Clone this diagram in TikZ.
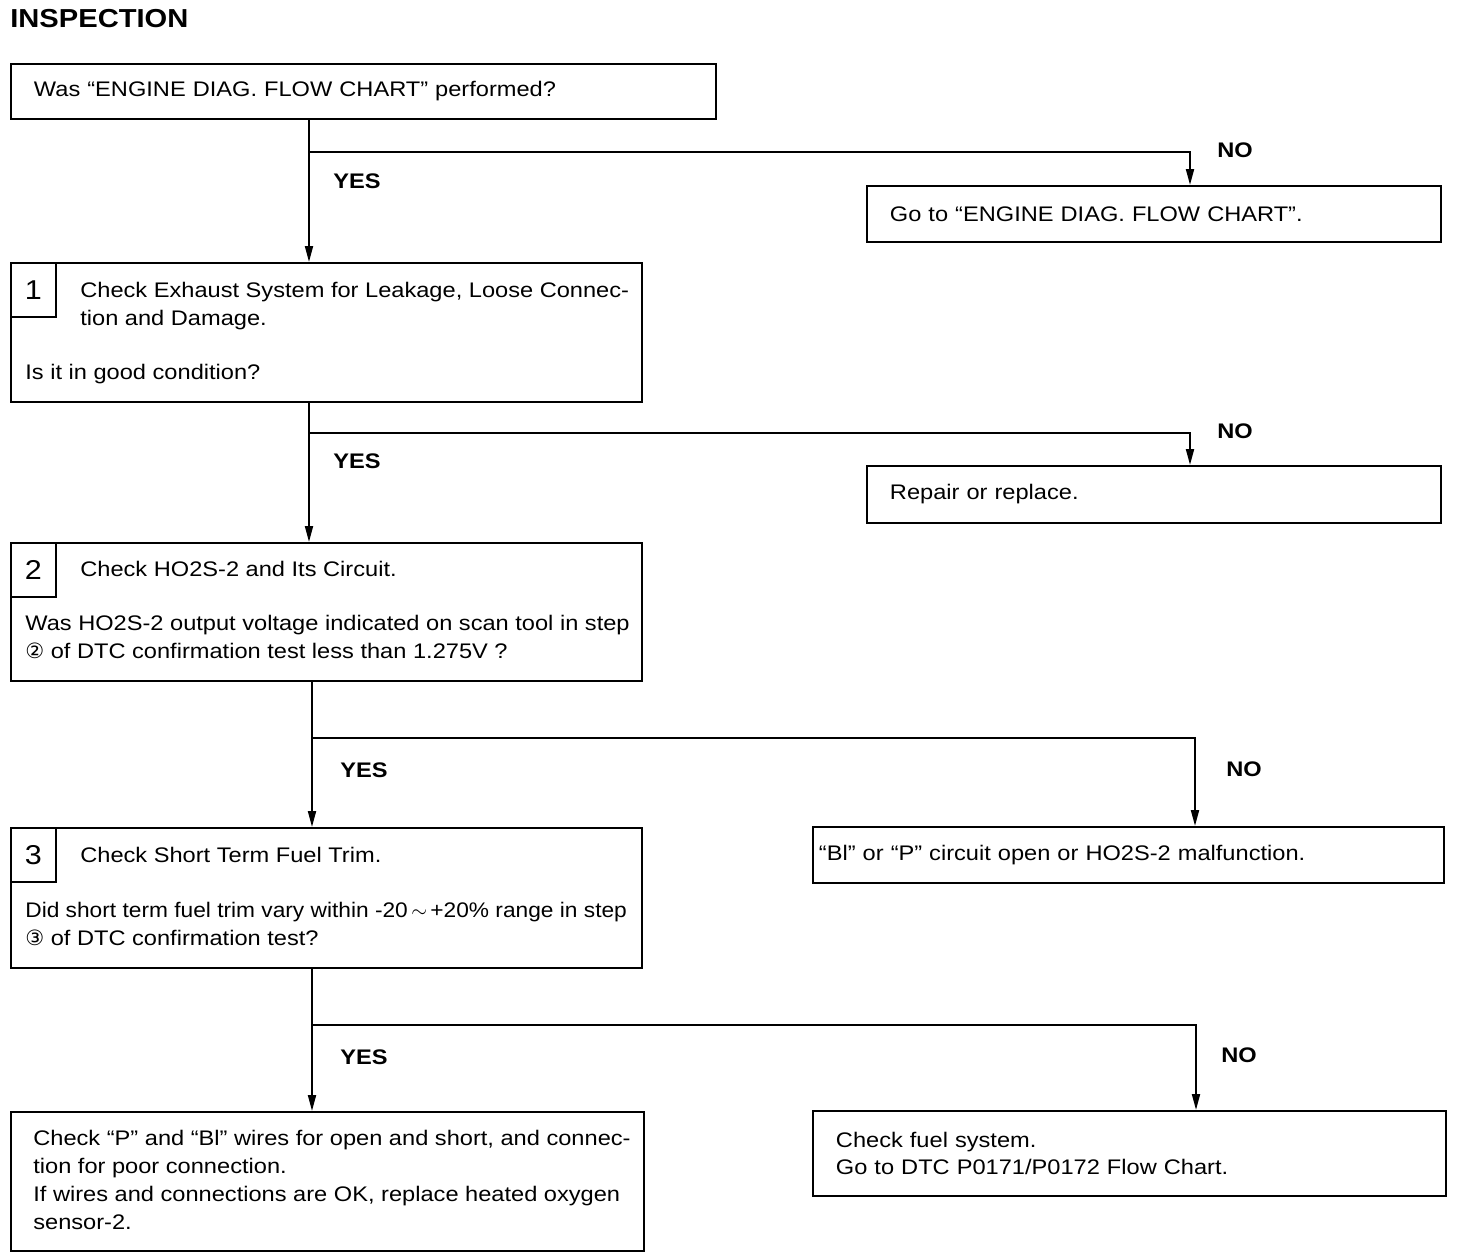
\documentclass[tikz,border=0pt]{standalone}
\usepackage{graphicx}
\usepackage{fontspec}
\setmainfont{Liberation Sans}[FakeStretch=1.12]
\newfontfamily\circfont{DejaVu Sans}
\newcommand\flowtxt{\fontsize{12}{15.9}\selectfont}
\usetikzlibrary{arrows.meta,positioning,calc}

\begin{document}
\begin{tikzpicture}[
    box/.style={draw, rectangle, line width=1.1pt, anchor=north west, align=left, inner xsep=0.46cm, inner ysep=0pt, font=\flowtxt},
    stepbox/.style={draw, rectangle, line width=1.1pt, anchor=north west, minimum width=12.62cm, minimum height=#1},
    numbox/.style={draw, rectangle, line width=1.1pt, anchor=north west, minimum width=0.9cm, minimum height=1.08cm, inner sep=0pt, font=\fontsize{15.5}{18}\selectfont},
    txt/.style={anchor=base west, align=left, inner sep=0pt, font=\flowtxt},
    lbl/.style={anchor=west, inner sep=0pt, font=\bfseries\fontsize{12}{14}\selectfont},
    arr/.style={-{Triangle[length=0.32cm,width=0.16cm]}, line width=1.1pt}]

    \useasboundingbox (0,0) rectangle (29.44,-25.2);

    \node[anchor=base west, inner sep=0pt, font=\bfseries\fontsize{14.8}{18}\selectfont] (title) at (0.2,-0.56) {INSPECTION};

    % first question
    \node[box, text width=13.18cm, minimum height=1.1cm] (q0) at (0.2,-1.26) {Was “ENGINE DIAG. FLOW CHART” performed?};
    \node[box, text width=10.56cm, minimum height=1.12cm] (n0) at (17.32,-3.7) {Go to “ENGINE DIAG. FLOW CHART”.};

    % step 1 (multi-line text sits on its last baseline)
    \node[stepbox=2.78cm] (s1) at (0.2,-5.24) {};
    \node[numbox] (s1num) at (s1.north west) {1};
    \node[txt] (s1head) at ($(s1.north west)+(1.4,-1.26)$) {Check Exhaust System for Leakage, Loose Connec-\\tion and Damage.};
    \node[txt] (s1ask) at ($(s1.north west)+(0.3,-2.34)$) {Is it in good condition?};
    \node[box, text width=10.56cm, minimum height=1.14cm] (n1) at (17.32,-9.3) {Repair or replace.};

    % step 2
    \node[stepbox=2.76cm] (s2) at (0.2,-10.84) {};
    \node[numbox] (s2num) at (s2.north west) {2};
    \node[txt] (s2head) at ($(s2.north west)+(1.4,-0.68)$) {Check HO2S-2 and Its Circuit.};
    \node[txt] (s2ask) at ($(s2.north west)+(0.3,-2.32)$) {Was HO2S-2 output voltage indicated on scan tool in step\\{\circfont ②} of DTC confirmation test less than 1.275V ?};
    \node[box, inner xsep=0.12cm, text width=12.38cm, minimum height=1.12cm] (n2) at (16.24,-16.52) {“Bl” or “P” circuit open or HO2S-2 malfunction.};

    % step 3
    \node[stepbox=2.8cm] (s3) at (0.2,-16.54) {};
    \node[numbox] (s3num) at (s3.north west) {3};
    \node[txt] (s3head) at ($(s3.north west)+(1.4,-0.7)$) {Check Short Term Fuel Trim.};
    \node[txt] (s3ask) at ($(s3.north west)+(0.3,-2.36)$) {\scalebox{0.962}[1]{Did short term fuel trim vary within -20\,$\sim$\,+20\% range in step}\\{\circfont ③} of DTC confirmation test?};

    % results
    \node[stepbox=2.78cm, minimum width=12.66cm] (e1) at (0.2,-22.22) {};
    \node[txt] (e1txt) at ($(e1.north west)+(0.46,-2.36)$) {Check “P” and “Bl” wires for open and short, and connec-\\tion for poor connection.\\If wires and connections are OK, replace heated oxygen\\sensor-2.};
    \node[box, text width=11.74cm, minimum height=1.7cm] (e2) at (16.24,-22.2) {Check fuel system.\\Go to DTC P0171/P0172 Flow Chart.};

    % branch points
    \coordinate (j0) at (6.18,-3.04);
    \coordinate (k0) at (23.8,-3.04);
    \coordinate (j1) at (6.18,-8.66);
    \coordinate (k1) at (23.8,-8.66);
    \coordinate (j2) at (6.24,-14.76);
    \coordinate (k2) at (23.9,-14.76);
    \coordinate (j3) at (6.24,-20.5);
    \coordinate (k3) at (23.92,-20.5);

    \draw[arr] (j0 |- q0.south) -- (j0 |- s1.north);
    \draw[arr] (j0) -- (k0) -- (k0 |- n0.north);
    \draw[arr] (j1 |- s1.south) -- (j1 |- s2.north);
    \draw[arr] (j1) -- (k1) -- (k1 |- n1.north);
    \draw[arr] (j2 |- s2.south) -- (j2 |- s3.north);
    \draw[arr] (j2) -- (k2) -- (k2 |- n2.north);
    \draw[arr] (j3 |- s3.south) -- (j3 |- e1.north);
    \draw[arr] (j3) -- (k3) -- (k3 |- e2.north);

    \node[lbl] (yes0) at (6.66,-3.62) {YES};
    \node[lbl] (no0) at (24.34,-3.0) {NO};
    \node[lbl] (yes1) at (6.66,-9.22) {YES};
    \node[lbl] (no1) at (24.34,-8.62) {NO};
    \node[lbl] (yes2) at (6.8,-15.4) {YES};
    \node[lbl] (no2) at (24.52,-15.38) {NO};
    \node[lbl] (yes3) at (6.8,-21.14) {YES};
    \node[lbl] (no3) at (24.42,-21.1) {NO};
\end{tikzpicture}
\end{document}
